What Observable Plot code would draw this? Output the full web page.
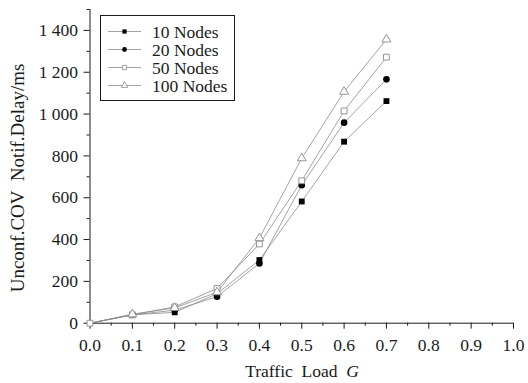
<!DOCTYPE html>
<html>
<head>
<meta charset="utf-8">
<script src="https://cdn.jsdelivr.net/npm/d3@7"></script>
<script src="https://cdn.jsdelivr.net/npm/@observablehq/plot@0.6"></script>
<style>
  html, body { margin: 0; padding: 0; background: #fff; }
  #chart svg, #chart svg text, #chart svg tspan {
    font-family: "Liberation Serif", "Times New Roman", Times, "Nimbus Roman", "DejaVu Serif", serif !important;
  }
</style>
</head>
<body>
<div id="chart"></div>
<script>
// ---- data ----
const loads = [0, 0.1, 0.2, 0.3, 0.4, 0.5, 0.6, 0.7];
const seriesNames = ["10 Nodes", "20 Nodes", "50 Nodes", "100 Nodes"];
const nodes10 = [0, 40, 52, 141, 302, 582, 868, 1062];
const nodes20 = [0, 40, 62, 127, 286, 660, 959, 1166];
const nodes50 = [0, 40, 78, 166, 379, 681, 1015, 1272];
const nodes100 = [0, 43, 73, 148, 407, 789, 1107, 1357];
const xTicks = [0, 0.1, 0.2, 0.3, 0.4, 0.5, 0.6, 0.7, 0.8, 0.9, 1.0];
const xTickLabels = ["0.0", "0.1", "0.2", "0.3", "0.4", "0.5", "0.6", "0.7", "0.8", "0.9", "1.0"];
const xMinorTicks = [0.05, 0.15, 0.25, 0.35, 0.45, 0.55, 0.65, 0.75, 0.85, 0.95];
const yTicks = [0, 200, 400, 600, 800, 1000, 1200, 1400];
const yTickLabels = ["0", "200", "400", "600", "800", "1 000", "1 200", "1 400"];
const yMinorTicks = [100, 300, 500, 700, 900, 1100, 1300, 1500];
const xLabel = ["Traffic  Load  ", "G"];
const yLabel = "Unconf.COV  Notif.Delay/ms";

// ---- build table ----
const values = [nodes10, nodes20, nodes50, nodes100];
const rows = [];
seriesNames.forEach((s, k) => loads.forEach((x, i) => rows.push({series: s, load: x, delay: values[k][i]})));

const styles = {
  "10 Nodes": {symbol: "square", fill: "#000", stroke: "none"},
  "20 Nodes": {symbol: "circle", fill: "#000", stroke: "none"},
  "50 Nodes": {symbol: "square", fill: "#fff", stroke: "#8a8a8a"},
  "100 Nodes": {symbol: "triangle", fill: "#fff", stroke: "#8a8a8a"}
};

const xFmt = new Map(xTicks.map((t, i) => [t, xTickLabels[i]]));
const yFmt = new Map(yTicks.map((t, i) => [t, yTickLabels[i]]));
const font = "'Liberation Serif', 'Times New Roman', Times, 'DejaVu Serif', serif";

const dotMarks = seriesNames.map(s => Plot.dot(
  rows.filter(d => d.series === s && (d.load > 0 || s === "50 Nodes")),
  {x: "load", y: "delay", symbol: () => styles[s].symbol, r: 3.3,
   fill: styles[s].fill, stroke: styles[s].stroke, strokeWidth: 0.9}
));

const chart = Plot.plot({
  width: 528,
  height: 383,
  marginLeft: 89.5,
  marginRight: 15,
  marginTop: 9,
  marginBottom: 60.3,
  style: `font-family: ${font}; font-size: 17.5px; background: #fff; color: #1a1a1a;`,
  x: {domain: [0, 1]},
  y: {domain: [0, 1500]},
  symbol: {type: "identity"},
  marks: [
    Plot.axisX(xTicks, {tickSize: 6, tickPadding: 9, tickFormat: d => xFmt.get(d), label: null, fontVariant: "normal"}),
    Plot.axisX(xMinorTicks, {tickSize: 3, tickFormat: () => "", label: null}),
    Plot.axisY(yTicks, {tickSize: 6, tickPadding: 6, tickFormat: d => yFmt.get(d), label: null, fontVariant: "normal"}),
    Plot.axisY(yMinorTicks, {tickSize: 3, tickFormat: () => "", label: null}),
    Plot.ruleX([0], {stroke: "#1a1a1a", strokeWidth: 1}),
    Plot.ruleY([0], {stroke: "#1a1a1a", strokeWidth: 1}),
    Plot.line(rows, {x: "load", y: "delay", z: "series", stroke: "#8c8c8c", strokeWidth: 0.8}),
    ...dotMarks
  ]
});
chart.setAttribute("font-family", font);

document.getElementById("chart").appendChild(chart);

// ---- labels and legend ----
const svg = d3.select(chart);
const xt = svg.append("text")
  .attr("x", 302).attr("y", 377)
  .attr("text-anchor", "middle")
  .style("font-family", font).style("font-size", "17.5px").attr("fill", "#1a1a1a")
  .style("white-space", "pre");
xt.append("tspan").text(xLabel[0]);
xt.append("tspan").style("font-style", "italic").text(xLabel[1]);

svg.append("text")
  .attr("transform", "translate(24,178) rotate(-90)")
  .attr("text-anchor", "middle")
  .style("font-family", font).style("font-size", "19px").attr("fill", "#1a1a1a")
  .style("white-space", "pre")
  .text(yLabel);

const lg = svg.append("g");
lg.append("rect").attr("x", 100.5).attr("y", 15.5).attr("width", 134).attr("height", 85)
  .attr("fill", "#fff").attr("stroke", "#1a1a1a").attr("stroke-width", 1);
const symMap = {square: d3.symbolSquare, circle: d3.symbolCircle, triangle: d3.symbolTriangle};
seriesNames.forEach((s, i) => {
  const cy = 31.5 + i * 18;
  lg.append("line").attr("x1", 108).attr("x2", 141).attr("y1", cy).attr("y2", cy)
    .attr("stroke", "#8c8c8c").attr("stroke-width", 0.8);
  lg.append("path")
    .attr("d", d3.symbol(symMap[styles[s].symbol], Math.PI * 2.4 * 2.4)())
    .attr("transform", `translate(124.5,${cy})`)
    .attr("fill", styles[s].fill).attr("stroke", styles[s].stroke).attr("stroke-width", 0.8);
  lg.append("text").attr("x", 152).attr("y", cy).attr("dy", "0.35em")
    .attr("text-anchor", "start")
    .style("font-family", font).style("font-size", "17.5px").attr("fill", "#1a1a1a")
    .text(s);
});
</script>
</body>
</html>
